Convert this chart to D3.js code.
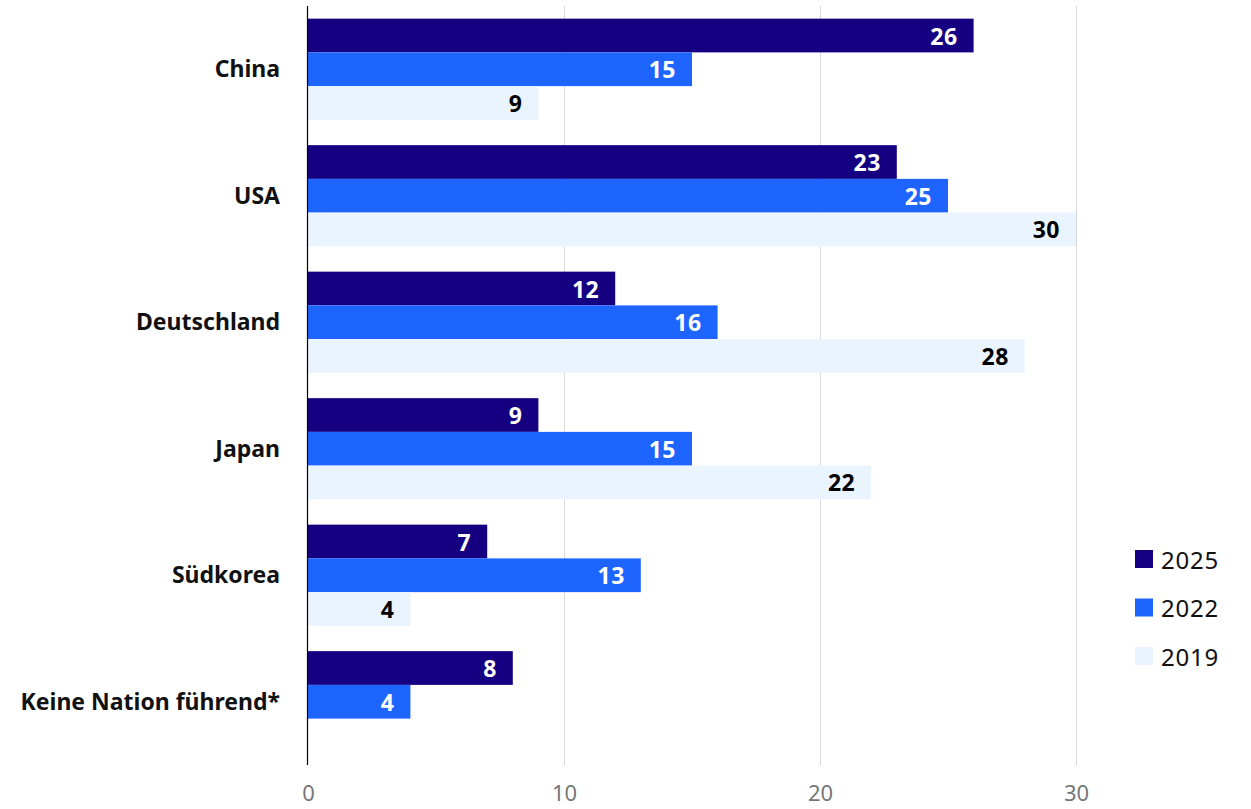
<!DOCTYPE html>
<html><head><meta charset="utf-8">
<script src="https://cdn.jsdelivr.net/npm/d3@7"></script>
<style>body{margin:0;background:#fff;} svg{display:block;}</style>
</head><body>
<svg id="c" width="1251" height="809"></svg>
<script>
const categories = ["China","USA","Deutschland","Japan","Südkorea","Keine Nation führend*"];
const seriesNames = ["2025","2022","2019"];
const values2025 = [26,23,12,9,7,8];
const values2022 = [15,25,16,15,13,4];
const values2019 = [9,30,28,22,4,null];
const tickValues = [0,10,20,30];
const colors = ["#140080","#1E64FF","#EAF4FF"];
const labelColors = ["#ffffff","#ffffff","#000000"];

const allSeries = [values2025, values2022, values2019];
const svg = d3.select("#c");
const font = "'Noto Sans', 'Open Sans', sans-serif";

const x = d3.scaleLinear().domain([0,30]).range([308,1076]);
const y = d3.scaleBand().domain(categories).range([6,765]).paddingInner(0.2).paddingOuter(0.1);
const ys = d3.scaleBand().domain(seriesNames).range([0,y.bandwidth()]);

// gridlines
svg.append("g").selectAll("line").data(tickValues.filter(d=>d>0)).join("line")
  .attr("x1",d=>x(d)+0.5).attr("x2",d=>x(d)+0.5).attr("y1",6).attr("y2",765)
  .attr("stroke","#d9d9d9").attr("stroke-width",1);

// bars
seriesNames.forEach((s,si)=>{
  const data = categories.map((c,i)=>({c, v: allSeries[si][i]})).filter(d=>d.v!=null);
  svg.append("g").selectAll("rect").data(data).join("rect")
    .attr("x",x(0)).attr("y",d=>y(d.c)+ys(s))
    .attr("width",d=>x(d.v)-x(0)).attr("height",ys.bandwidth())
    .attr("fill",colors[si]);
  svg.append("g").selectAll("text").data(data).join("text")
    .attr("x",d=>x(d.v)-16).attr("y",d=>y(d.c)+ys(s)+ys.bandwidth()/2)
    .attr("text-anchor","end").attr("dominant-baseline","central")
    .attr("font-family",font).attr("font-weight","bold").attr("font-size",23)
    .attr("letter-spacing",0.5)
    .attr("fill",labelColors[si]).text(d=>d.v);
});

// axis line
svg.append("line").attr("x1",x(0)-0.5).attr("x2",x(0)-0.5).attr("y1",6).attr("y2",765)
  .attr("stroke","#000").attr("stroke-width",1.2);

// category labels
svg.append("g").selectAll("text").data(categories).join("text")
  .attr("x",280).attr("y",d=>y(d)+y.bandwidth()/2-1)
  .attr("text-anchor","end").attr("dominant-baseline","central")
  .attr("font-family",font).attr("font-weight","bold").attr("font-size",23)
  .attr("fill","#111").text(d=>d);

// x axis tick labels
const xAxis = d3.axisBottom(x).tickValues(tickValues).tickSize(0).tickPadding(0);
const ax = svg.append("g").attr("transform","translate(0,785)").call(xAxis);
ax.select(".domain").remove();
ax.selectAll("text").attr("font-family",font).attr("font-size",22).attr("fill","#777").attr("dy","0.71em");

// legend
const lg = svg.append("g").selectAll("g").data(seriesNames).join("g")
  .attr("transform",(d,i)=>`translate(1135,${550+i*48.5})`);
lg.append("rect").attr("width",18).attr("height",18).attr("fill",(d,i)=>colors[i]);
lg.append("text").attr("x",26).attr("y",9).attr("dominant-baseline","central")
  .attr("font-family",font).attr("font-size",24).attr("letter-spacing",0.8)
  .attr("fill","#111").text(d=>d);
</script>
</body></html>
